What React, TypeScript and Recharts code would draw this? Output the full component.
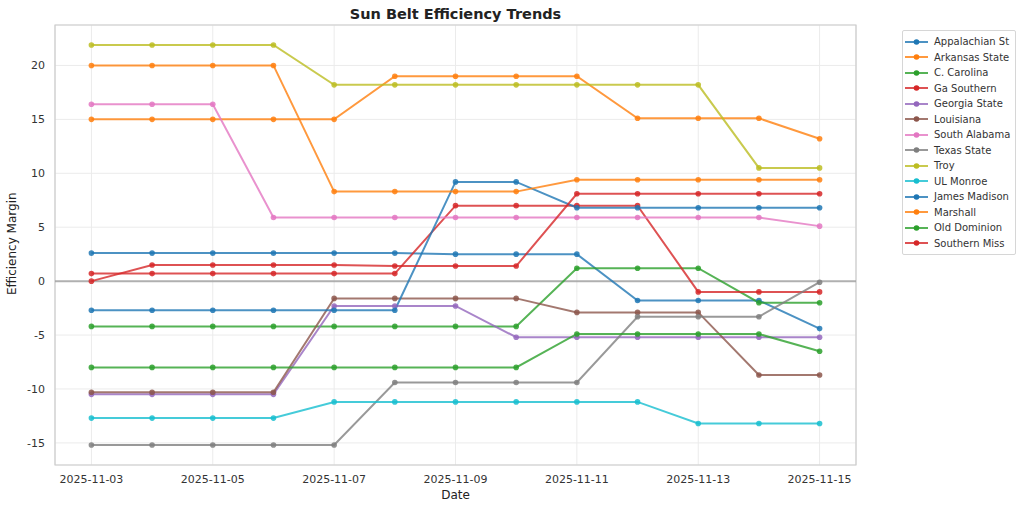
import React from "react";
import {
  LineChart,
  Line,
  XAxis,
  YAxis,
  CartesianGrid,
  ReferenceLine,
  ReferenceArea,
} from "recharts";

const dates = [
  "2025-11-03", "2025-11-04", "2025-11-05", "2025-11-06", "2025-11-07",
  "2025-11-08", "2025-11-09", "2025-11-10", "2025-11-11", "2025-11-12",
  "2025-11-13", "2025-11-14", "2025-11-15",
];

const teams = [
  "Appalachian St", "Arkansas State", "C. Carolina", "Ga Southern",
  "Georgia State", "Louisiana", "South Alabama", "Texas State", "Troy",
  "UL Monroe", "James Madison", "Marshall", "Old Dominion", "Southern Miss",
];

const appalachianSt = [2.6, 2.6, 2.6, 2.6, 2.6, 2.6, 2.5, 2.5, 2.5, -1.8, -1.8, -1.8, -4.4];
const arkansasState = [15, 15, 15, 15, 15, 19, 19, 19, 19, 15.1, 15.1, 15.1, 13.2];
const cCarolina = [-4.2, -4.2, -4.2, -4.2, -4.2, -4.2, -4.2, -4.2, 1.2, 1.2, 1.2, -2.0, -2.0];
const gaSouthern = [0.7, 0.7, 0.7, 0.7, 0.7, 0.7, 7.0, 7.0, 7.0, 7.0, -1.0, -1.0, -1.0];
const georgiaState = [-10.5, -10.5, -10.5, -10.5, -2.3, -2.3, -2.3, -5.2, -5.2, -5.2, -5.2, -5.2, -5.2];
const louisiana = [-10.3, -10.3, -10.3, -10.3, -1.6, -1.6, -1.6, -1.6, -2.9, -2.9, -2.9, -8.7, -8.7];
const southAlabama = [16.4, 16.4, 16.4, 5.9, 5.9, 5.9, 5.9, 5.9, 5.9, 5.9, 5.9, 5.9, 5.1];
const texasState = [-15.2, -15.2, -15.2, -15.2, -15.2, -9.4, -9.4, -9.4, -9.4, -3.3, -3.3, -3.3, -0.1];
const troy = [21.9, 21.9, 21.9, 21.9, 18.2, 18.2, 18.2, 18.2, 18.2, 18.2, 18.2, 10.5, 10.5];
const ulMonroe = [-12.7, -12.7, -12.7, -12.7, -11.2, -11.2, -11.2, -11.2, -11.2, -11.2, -13.2, -13.2, -13.2];
const jamesMadison = [-2.7, -2.7, -2.7, -2.7, -2.7, -2.7, 9.2, 9.2, 6.8, 6.8, 6.8, 6.8, 6.8];
const marshall = [20, 20, 20, 20, 8.3, 8.3, 8.3, 8.3, 9.4, 9.4, 9.4, 9.4, 9.4];
const oldDominion = [-8.0, -8.0, -8.0, -8.0, -8.0, -8.0, -8.0, -8.0, -4.9, -4.9, -4.9, -4.9, -6.5];
const southernMiss = [0, 1.5, 1.5, 1.5, 1.5, 1.4, 1.4, 1.4, 8.1, 8.1, 8.1, 8.1, 8.1];

const seriesValues = [
  appalachianSt, arkansasState, cCarolina, gaSouthern, georgiaState, louisiana,
  southAlabama, texasState, troy, ulMonroe, jamesMadison, marshall, oldDominion, southernMiss,
];

const palette = [
  "#1f77b4", "#ff7f0e", "#2ca02c", "#d62728", "#9467bd",
  "#8c564b", "#e377c2", "#7f7f7f", "#bcbd22", "#17becf",
];

const yTicks = [-15, -10, -5, 0, 5, 10, 15, 20];
const xTicks = [0, 2, 4, 6, 8, 10, 12];

const rows = dates.map((d, i) => {
  const r: Record<string, number | string> = { x: i, date: d };
  teams.forEach((t, k) => {
    r[t] = seriesValues[k][i];
  });
  return r;
});

const FONT = "'DejaVu Sans', sans-serif";
const W = 1024;
const H = 507;

export default function App() {
  return (
    <div style={{ position: "absolute", left: 0, top: 0, width: W, height: H, background: "#fff", fontFamily: FONT }}>
      <div
        style={{
          position: "absolute",
          left: 55,
          width: 801,
          top: 4,
          textAlign: "center",
          fontWeight: "bold",
          fontSize: 14.5,
          lineHeight: "20px",
          color: "#222",
        }}
      >
        Sun Belt Efficiency Trends
      </div>
      <LineChart
        width={W}
        height={H}
        data={rows}
        margin={{ top: 25, right: 168, bottom: 0, left: 0 }}
        style={{ fontFamily: FONT }}
      >
        <CartesianGrid stroke="#ebebeb" strokeWidth={1} />
        <XAxis
          dataKey="x"
          type="number"
          domain={[-0.6, 12.6]}
          ticks={xTicks}
          tickFormatter={(v: number) => dates[v]}
          tickLine={false}
          axisLine={false}
          height={42}
          tick={{ fontSize: 11, fill: "#333", fontFamily: FONT }}
          tickMargin={4}
          label={{ value: "Date", position: "insideBottom", offset: 8, fontSize: 12, fill: "#222", fontFamily: FONT }}
        />
        <YAxis
          type="number"
          domain={[-17.05, 23.75]}
          ticks={yTicks}
          allowDataOverflow
          tickLine={false}
          axisLine={false}
          width={55}
          tick={{ fontSize: 11, fill: "#333", fontFamily: FONT }}
          tickMargin={4}
          label={{ value: "Efficiency Margin", angle: -90, position: "insideLeft", offset: 12, dy: 50, fontSize: 12, fill: "#222", fontFamily: FONT }}
        />
        <ReferenceArea
          x1={-0.6}
          x2={12.6}
          y1={-17.05}
          y2={23.75}
          fill="none"
          stroke="#cccccc"
          strokeWidth={1.2}
          ifOverflow="visible"
        />
        <ReferenceLine y={0} stroke="#999999" strokeOpacity={0.75} strokeWidth={2} />
        {teams.map((t, k) => {
          const c = palette[k % palette.length];
          return (
            <Line
              key={t}
              dataKey={t}
              type="linear"
              stroke={c}
              strokeOpacity={0.8}
              strokeWidth={2}
              dot={{ r: 2.8, fill: c, fillOpacity: 0.85, stroke: "none" }}
              activeDot={false}
              isAnimationActive={false}
            />
          );
        })}
      </LineChart>
      <div
        style={{
          position: "absolute",
          left: 902,
          top: 30,
          width: 114,
          boxSizing: "border-box",
          padding: "3px 0 3px 0",
          border: "1px solid #d6d6d6",
          borderRadius: 2,
          background: "#fff",
          fontSize: 10,
          color: "#333",
        }}
      >
        {teams.map((t, k) => {
          const c = palette[k % palette.length];
          return (
            <div key={t} style={{ display: "flex", alignItems: "center", height: 15.5, whiteSpace: "nowrap" }}>
              <svg width={31} height={10} style={{ flexShrink: 0, marginLeft: 0 }}>
                <line x1={2} y1={5} x2={25} y2={5} stroke={c} strokeOpacity={0.8} strokeWidth={2} />
                <circle cx={13.5} cy={5} r={2.8} fill={c} />
              </svg>
              <span>{t}</span>
            </div>
          );
        })}
      </div>
    </div>
  );
}
